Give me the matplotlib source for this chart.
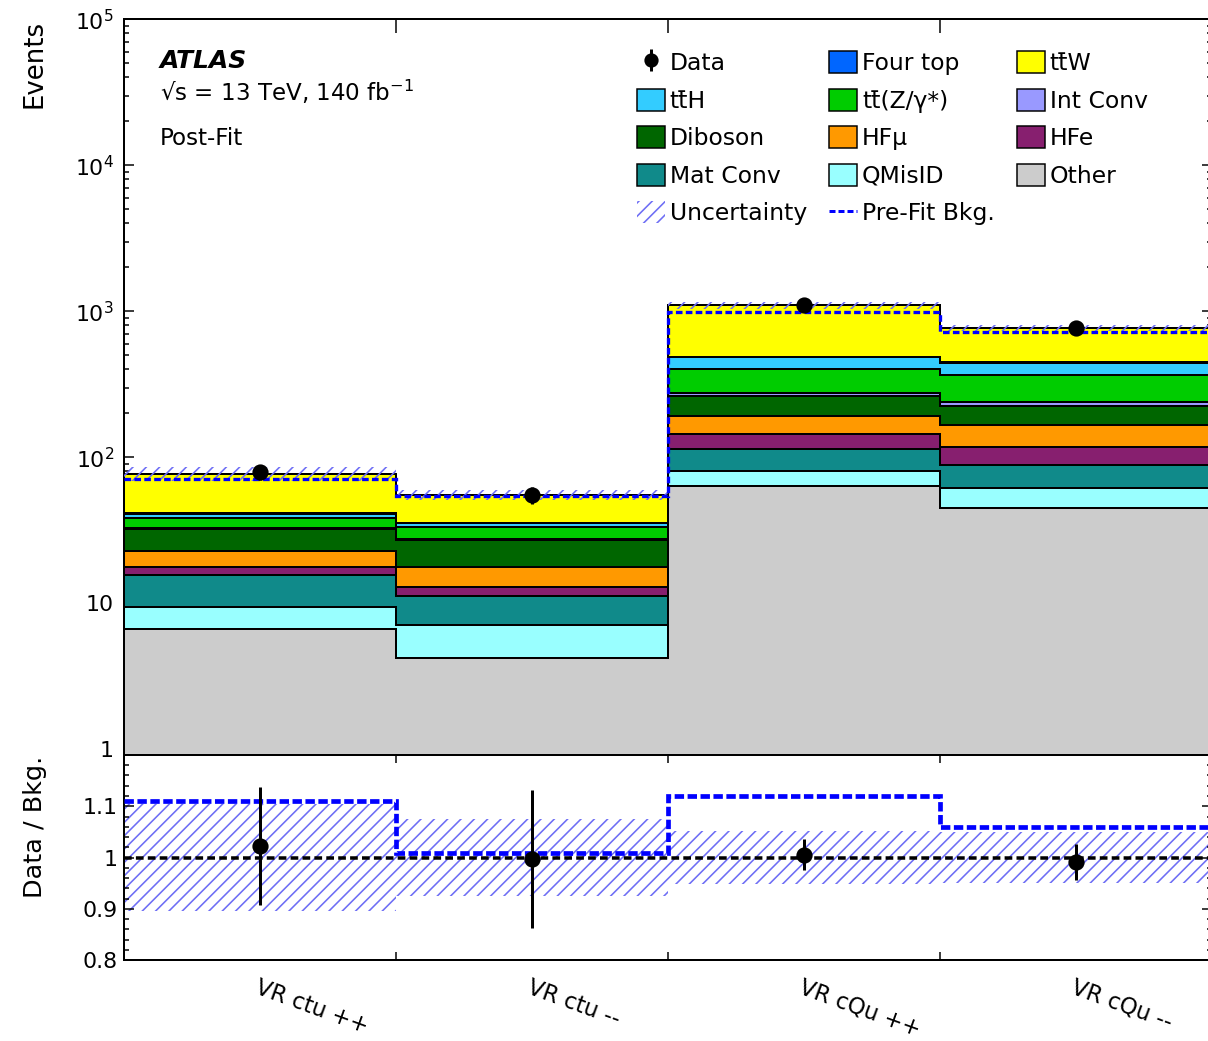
import numpy as np
import matplotlib
matplotlib.use("Agg")
import matplotlib.pyplot as plt
import matplotlib.transforms as mtransforms
from matplotlib.patches import Patch
from matplotlib.lines import Line2D
from matplotlib.ticker import FixedLocator, LogLocator, MultipleLocator, FuncFormatter, NullFormatter

DPI = 160


def px(v):
    # pixel size -> points at this dpi
    return v * 72.0 / DPI


plt.rcParams['font.family'] = ['DejaVu Sans']
plt.rcParams['hatch.linewidth'] = px(1.6)

# data
regions = ['VR ctu ++', 'VR ctu --', 'VR cQu ++', 'VR cQu --']
data = np.array([79, 55, 1105, 766])
other = [6.7, 4.25, 63.6, 45.2]
qmisid = [2.8, 2.8, 16.9, 16.1]
mat_conv = [6.2, 4.2, 34.1, 27.2]
hfe = [2.0, 1.7, 30.4, 29.5]
hfmu = [5.1, 4.7, 46.0, 49.0]
diboson = [9.3, 9.4, 70.0, 57.0]
int_conv = [0.5, 0.4, 15.0, 17.0]
ttz = [6.0, 6.0, 129.0, 124.0]
tth = [2.5, 1.8, 79.0, 80.0]
four_top = [0.3, 0.2, 6.0, 5.0]
ttw = [35.9, 19.7, 609.0, 323.0]
prefit_bkg = [71.2, 54.5, 987.0, 723.0]
rel_unc = [0.105, 0.075, 0.052, 0.05]

TTW = 'tt\u0304W'
TTH = 'tt\u0304H'
TTZ = 'tt\u0304(Z/\u03b3*)'
HFMU = 'HF\u03bc'

# bottom -> top
stack = [
    (other, '#cccccc', 'Other'),
    (qmisid, '#99ffff', 'QMisID'),
    (mat_conv, '#108a8a', 'Mat Conv'),
    (hfe, '#871f6f', 'HFe'),
    (hfmu, '#ff9900', HFMU),
    (diboson, '#006600', 'Diboson'),
    (int_conv, '#9999ff', 'Int Conv'),
    (ttz, '#00cc00', TTZ),
    (tth, '#33ccff', TTH),
    (four_top, '#0066ff', 'Four top'),
    (ttw, '#ffff00', TTW),
]

edges = np.arange(len(regions) + 1)
centers = edges[:-1] + 0.5
hatch_col = '#6e6ef5'
unc = np.array(rel_unc)

fig = plt.figure(figsize=(1208 / DPI, 1041 / DPI), dpi=DPI)
W, H = 1208.0, 1041.0
ax = fig.add_axes([124 / W, 1 - 755 / H, 1088 / W, (755 - 19.3) / H])
axr = fig.add_axes([124 / W, 1 - 960 / H, 1088 / W, 205 / H], sharex=ax)

# stacked histograms, drawn from the top layer down
cum = np.cumsum([np.array(s[0]) for s in stack], axis=0)
for i in range(len(stack) - 1, -1, -1):
    ax.stairs(cum[i], edges, baseline=1e-3, fill=True, facecolor=stack[i][1],
              edgecolor='black', linewidth=px(2), zorder=2)
total = cum[-1]

ax.stairs(total * (1 + unc), edges, baseline=total * (1 - unc), fill=True,
          facecolor='none', edgecolor=hatch_col, hatch='////', linewidth=0, zorder=3)
ax.stairs(prefit_bkg, edges, baseline=None, color='#0000ff', linewidth=px(3.3),
          linestyle=(0, (2, 1)), zorder=4)
ax.errorbar(centers, data, yerr=np.sqrt(data), fmt='o', color='black',
            markersize=px(14), elinewidth=px(3), capsize=0, zorder=5)

ax.set_yscale('log')
ax.set_ylim(0.914, 1e5)
ax.set_xlim(0, 4)


def log_fmt(v, pos):
    if v == 1:
        return '1'
    if v == 10:
        return '10'
    return '$10^{%d}$' % int(round(np.log10(v)))


ax.yaxis.set_major_locator(LogLocator(base=10, numticks=10))
ax.yaxis.set_minor_locator(LogLocator(base=10, subs=np.arange(2, 10), numticks=20))
ax.yaxis.set_major_formatter(FuncFormatter(log_fmt))
ax.yaxis.set_minor_formatter(NullFormatter())

# ratio panel
ratio = data / total
ratio_err = np.sqrt(data) / total
prefit_ratio = data / np.array(prefit_bkg)

axr.stairs(1 + unc, edges, baseline=1 - unc, fill=True, facecolor='none',
           edgecolor=hatch_col, hatch='////', linewidth=0, zorder=1)
axr.axhline(1, color='black', linewidth=px(3.5), linestyle=(0, (2.2, 1.2)), zorder=2)
axr.stairs(prefit_ratio, edges, baseline=None, color='#0000ff', linewidth=px(4.7),
           linestyle=(0, (2, 0.75)), zorder=3)
axr.errorbar(centers, ratio, yerr=ratio_err, fmt='o', color='black',
             markersize=px(14), elinewidth=px(3), capsize=0, zorder=4)
axr.set_ylim(0.8, 1.2)
axr.yaxis.set_major_locator(FixedLocator([0.8, 0.9, 1.0, 1.1, 1.2]))
axr.yaxis.set_minor_locator(MultipleLocator(0.02))
axr.yaxis.set_major_formatter(FuncFormatter(
    lambda v, p: {0.8: '0.8', 0.9: '0.9', 1.0: '1', 1.1: '1.1'}.get(round(v, 2), '')))

for a in (ax, axr):
    a.xaxis.set_major_locator(FixedLocator(edges[1:-1]))
    a.tick_params(axis='x', which='both', labelbottom=False, labeltop=False)
    a.tick_params(which='both', direction='in', top=True, right=True,
                  width=px(1.5), colors='black')
    a.tick_params(axis='y', which='major', length=px(10), labelsize=px(22))
    a.tick_params(axis='y', which='minor', length=px(5))
    for s in a.spines.values():
        s.set_linewidth(px(2))
ax.tick_params(axis='x', which='major', length=px(14))
ax.tick_params(axis='y', which='major', pad=px(10))
axr.tick_params(axis='x', which='major', length=px(8))
axr.tick_params(axis='y', which='major', pad=px(6))

trans = mtransforms.blended_transform_factory(axr.transData, axr.transAxes)
for c, lab in zip(centers, regions):
    axr.text(c, -0.078, lab, transform=trans, rotation=-20, rotation_mode='anchor',
             ha='left', va='top', fontsize=px(22.5))

fig.text(35 / W, 1 - 20 / H, 'Events', rotation=90, ha='center', va='top',
         fontsize=px(26))
fig.text(35 / W, 1 - 756 / H, 'Data / Bkg.', rotation=90, ha='center', va='top',
         fontsize=px(25.5))

fig.text(160 / W, 1 - 68 / H, 'ATLAS', fontsize=px(25), fontweight='bold',
         fontstyle='italic', va='baseline')
fig.text(160 / W, 1 - 101 / H, '\u221as = 13 TeV, 140 fb$^{-1}$', fontsize=px(23),
         va='baseline')
fig.text(160 / W, 1 - 145 / H, 'Post-Fit', fontsize=px(23), va='baseline')

# legend, columns filled top to bottom
data_h = (Line2D([], [], color='black', marker='|', linestyle='none',
                 markersize=px(22), markeredgewidth=px(3)),
          Line2D([], [], color='black', marker='o', linestyle='none', markersize=px(12)))
patch = {lab: Patch(facecolor=col, edgecolor='black', linewidth=px(1.5))
         for _, col, lab in stack}
unc_h = Patch(facecolor='none', edgecolor=hatch_col, hatch='////', linewidth=0)
pre_h = Line2D([], [], color='#0000ff', linewidth=px(3), linestyle=(0, (2, 1)))
entries = [
    (data_h, 'Data'), (patch[TTH], TTH), (patch['Diboson'], 'Diboson'),
    (patch['Mat Conv'], 'Mat Conv'), (unc_h, 'Uncertainty'),
    (patch['Four top'], 'Four top'), (patch[TTZ], TTZ), (patch[HFMU], HFMU),
    (patch['QMisID'], 'QMisID'), (pre_h, 'Pre-Fit Bkg.'),
    (patch[TTW], TTW), (patch['Int Conv'], 'Int Conv'), (patch['HFe'], 'HFe'),
    (patch['Other'], 'Other'),
]
fig.legend([e[0] for e in entries], [e[1] for e in entries], ncol=3,
           loc='upper left', bbox_to_anchor=(637 / W, 1 - 51 / H),
           frameon=False, fontsize=px(23.5), handlelength=1.19, handleheight=1.06,
           handletextpad=0.2, columnspacing=0.95, labelspacing=0.58,
           borderpad=0, borderaxespad=0)

fig.savefig('out.png', dpi=DPI)
